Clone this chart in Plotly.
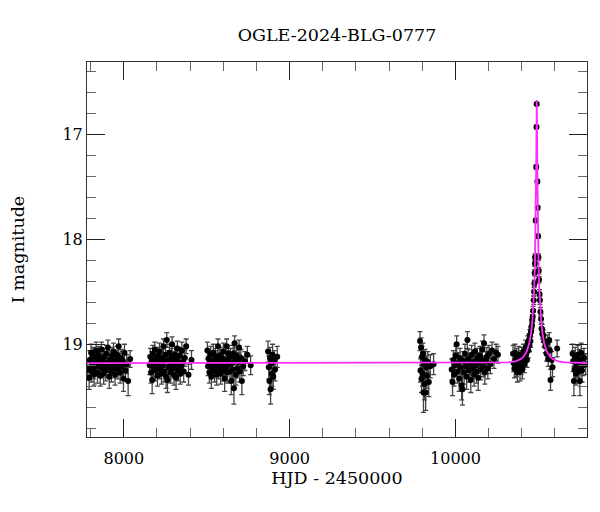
import plotly.graph_objects as go

# ---------------- data ----------------
s1_t = [7782, 7791, 7795, 7798, 7803, 7806, 7810, 7814, 7818, 7821, 7826,
        7829, 7833, 7837, 7841, 7846, 7849, 7853, 7858, 7861, 7866,
        7870, 7874, 7878, 7882, 7887, 7891, 7895, 7899, 7904, 7908,
        7912, 7917, 7921, 7925, 7929, 7934, 7938, 7943, 7947, 7951,
        7956, 7960, 7965, 7969, 7974, 7978, 7983, 7988, 7993, 7998,
        8004, 8010, 8017, 8026, 8038]
s1_m = [19.24, 19.32, 19.15, 19.22, 19.08, 19.26, 19.18, 19.11, 19.24, 19.29, 19.13,
        19.20, 19.06, 19.17, 19.27, 19.10, 19.21, 19.14, 19.30, 19.19, 19.05,
        19.23, 19.16, 19.28, 19.12, 19.20, 19.25, 19.09, 19.18, 19.03, 19.22,
        19.31, 19.14, 19.19, 19.26, 19.11, 19.17, 19.07, 19.23, 19.29, 19.15,
        19.20, 19.10, 19.24, 19.02, 19.18, 19.27, 19.13, 19.21, 19.16, 19.33,
        19.08, 19.25, 19.19, 19.35, 19.14]
s1_e = [0.10, 0.11, 0.09, 0.09, 0.08, 0.10, 0.09, 0.08, 0.09, 0.10, 0.08,
        0.09, 0.08, 0.09, 0.10, 0.08, 0.09, 0.08, 0.10, 0.09, 0.07,
        0.09, 0.09, 0.10, 0.08, 0.09, 0.10, 0.08, 0.09, 0.07, 0.09,
        0.11, 0.08, 0.09, 0.10, 0.08, 0.09, 0.08, 0.09, 0.10, 0.09,
        0.09, 0.08, 0.09, 0.07, 0.09, 0.10, 0.08, 0.09, 0.09, 0.12,
        0.08, 0.10, 0.09, 0.14, 0.08]

s2_t = [8156, 8160, 8164, 8168, 8171, 8175, 8179, 8183, 8187, 8191,
        8195, 8199, 8203, 8207, 8211, 8215, 8219, 8223, 8227, 8231,
        8235, 8239, 8243, 8247, 8251, 8255, 8259, 8263, 8267, 8271,
        8275, 8279, 8283, 8287, 8291, 8295, 8299, 8303, 8307, 8311,
        8315, 8319, 8323, 8327, 8331, 8335, 8340, 8345, 8350, 8355,
        8361, 8368, 8376, 8390, 8408]
s2_m = [19.20, 19.12, 19.27, 19.16, 19.34, 19.09, 19.22, 19.18, 19.05, 19.25,
        19.14, 19.21, 19.30, 19.11, 19.19, 19.07, 19.24, 19.16, 19.28, 19.13,
        19.20, 19.02, 19.26, 19.17, 19.10, 19.31, 18.96, 19.34, 19.15, 19.22,
        19.08, 19.19, 19.27, 19.12, 19.00, 19.23, 19.16, 19.29, 19.10, 19.20,
        19.32, 19.14, 19.04, 19.25, 19.18, 19.11, 19.28, 19.21, 19.06, 19.17,
        19.26, 19.13, 19.02, 19.29, 19.15]
s2_e = [0.09, 0.08, 0.10, 0.09, 0.13, 0.08, 0.09, 0.09, 0.07, 0.10,
        0.08, 0.09, 0.10, 0.08, 0.09, 0.08, 0.09, 0.09, 0.10, 0.08,
        0.09, 0.07, 0.10, 0.09, 0.08, 0.11, 0.07, 0.12, 0.09, 0.09,
        0.08, 0.09, 0.10, 0.08, 0.07, 0.09, 0.09, 0.10, 0.08, 0.09,
        0.11, 0.08, 0.07, 0.10, 0.09, 0.08, 0.10, 0.09, 0.08, 0.09,
        0.10, 0.08, 0.07, 0.10, 0.09]

s3_t = [8504, 8508, 8512, 8516, 8520, 8524, 8528, 8532, 8536, 8540,
        8544, 8548, 8552, 8556, 8560, 8564, 8568, 8572, 8576, 8580,
        8584, 8588, 8592, 8596, 8600, 8604, 8608, 8612, 8616, 8620,
        8624, 8628, 8632, 8636, 8640, 8644, 8648, 8652, 8656, 8660,
        8664, 8668, 8672, 8676, 8680, 8685, 8690, 8695, 8700, 8706,
        8712, 8720, 8730, 8745, 8765]
s3_m = [19.06, 19.21, 19.14, 19.27, 19.18, 19.10, 19.31, 19.16, 19.23, 19.08,
        19.19, 19.26, 19.12, 19.20, 19.29, 19.15, 19.02, 19.24, 19.17, 19.11,
        19.28, 19.19, 19.13, 19.25, 19.07, 19.21, 19.33, 19.16, 19.22, 19.02,
        19.27, 19.14, 19.09, 19.19, 19.26, 19.12, 19.35, 19.18, 19.24, 19.09,
        19.42, 18.99, 19.15, 19.29, 19.11, 19.23, 19.17, 19.03, 19.26, 19.13,
        19.35, 19.21, 19.16, 19.10, 19.20]
s3_e = [0.08, 0.09, 0.08, 0.10, 0.09, 0.08, 0.11, 0.09, 0.09, 0.08,
        0.09, 0.10, 0.08, 0.09, 0.10, 0.09, 0.07, 0.09, 0.09, 0.08,
        0.10, 0.09, 0.08, 0.10, 0.08, 0.09, 0.12, 0.09, 0.09, 0.07,
        0.10, 0.08, 0.08, 0.09, 0.10, 0.08, 0.13, 0.09, 0.09, 0.08,
        0.15, 0.07, 0.09, 0.10, 0.08, 0.09, 0.09, 0.07, 0.10, 0.08,
        0.13, 0.09, 0.09, 0.08, 0.09]

s4_t = [8870, 8874, 8878, 8882, 8885, 8889, 8893, 8897, 8901, 8906, 8912, 8925]
s4_m = [19.07, 19.22, 19.35, 19.13, 19.43, 19.18, 19.28, 19.10, 19.31, 19.16, 19.24, 19.12]
s4_e = [0.10, 0.11, 0.13, 0.10, 0.14, 0.10, 0.12, 0.10, 0.12, 0.10, 0.11, 0.10]

s5_t = [9786, 9789, 9792, 9795, 9798, 9801, 9804, 9807, 9810, 9813,
        9816, 9820, 9824, 9828, 9833, 9839, 9848, 9868]
s5_m = [18.97, 19.25, 19.03, 19.33, 19.12, 19.28, 19.09, 19.46, 19.19, 19.38,
        19.15, 19.46, 19.22, 19.30, 19.17, 19.36, 19.21, 19.19]
s5_e = [0.09, 0.11, 0.09, 0.13, 0.10, 0.12, 0.10, 0.19, 0.10, 0.15,
        0.10, 0.17, 0.11, 0.12, 0.10, 0.14, 0.11, 0.10]

s6_t = [9977, 9982, 9987, 9992, 9997, 10002, 10007, 10012, 10017, 10022,
        10027, 10032, 10037, 10042, 10047, 10052, 10057, 10062, 10067, 10072,
        10077, 10082, 10087, 10092, 10097, 10102, 10107, 10112, 10117, 10122,
        10127, 10132, 10137, 10142, 10147, 10152, 10157, 10162, 10167, 10172,
        10177, 10183, 10189, 10195, 10202, 10210, 10220, 10232, 10245, 10256]
s6_m = [19.24, 19.36, 19.15, 19.29, 19.20, 19.11, 19.00, 19.26, 19.18, 19.33,
        19.13, 19.22, 19.39, 19.43, 19.16, 19.27, 19.09, 19.21, 19.31, 18.96,
        19.14, 19.25, 19.19, 19.34, 19.10, 19.23, 19.17, 19.29, 19.07, 19.20,
        19.26, 19.13, 19.32, 19.18, 19.11, 19.24, 19.15, 19.05, 19.21, 18.99,
        19.27, 19.16, 19.12, 19.23, 19.09, 19.19, 19.06, 19.14, 19.08, 19.10]
s6_e = [0.10, 0.13, 0.09, 0.11, 0.10, 0.09, 0.08, 0.11, 0.10, 0.12,
        0.09, 0.10, 0.14, 0.15, 0.09, 0.11, 0.09, 0.10, 0.12, 0.08,
        0.09, 0.11, 0.10, 0.12, 0.09, 0.10, 0.09, 0.11, 0.08, 0.10,
        0.11, 0.09, 0.12, 0.10, 0.09, 0.10, 0.09, 0.08, 0.10, 0.08,
        0.11, 0.09, 0.09, 0.10, 0.08, 0.09, 0.08, 0.09, 0.08, 0.08]

s7_t = [10347, 10351, 10355, 10358, 10362, 10366, 10369, 10373, 10377, 10381,
        10385, 10389, 10392, 10396, 10399, 10403, 10407, 10411, 10415, 10419,
        10423, 10427, 10431, 10435, 10439, 10443, 10446, 10449, 10452, 10455,
        10458, 10461, 10463, 10465.4, 10468, 10471.5, 10473.8, 10475.6, 10477.5, 10479,
        10480, 10483.7, 10486.8, 10488.4, 10489.6, 10493.9, 10495.5, 10497.7, 10500, 10502,
        10503.7, 10506.7, 10509, 10512, 10516, 10519, 10522, 10525, 10529, 10535,
        10541, 10549, 10555, 10559, 10565, 10569, 10573, 10580, 10585, 10613]
s7_m = [19.09, 19.18, 19.23, 19.08, 19.15, 19.22, 19.12, 19.27, 19.17, 19.10,
        19.20, 19.26, 19.14, 19.21, 19.11, 19.24, 19.16, 19.07, 19.19, 19.12,
        19.03, 19.09, 19.15, 18.99, 19.06, 18.96, 19.01, 18.92, 18.97, 18.88,
        18.84, 18.82, 18.77, 18.74, 18.68, 18.58, 18.50, 18.42, 18.32, 18.23,
        18.17, 17.82, 17.31, 16.93, 16.71, 17.45, 17.70, 17.97, 18.17, 18.30,
        18.385, 18.52, 18.58, 18.69, 18.76, 18.85, 18.86, 18.90, 18.92, 18.97,
        19.02, 19.09, 18.98, 19.14, 18.96, 19.06, 19.34, 19.15, 19.22, 19.04]
s7_e = [0.08, 0.08, 0.09, 0.08, 0.08, 0.09, 0.08, 0.09, 0.08, 0.08,
        0.08, 0.09, 0.08, 0.08, 0.08, 0.09, 0.08, 0.07, 0.08, 0.07,
        0.07, 0.07, 0.07, 0.07, 0.07, 0.06, 0.06, 0.06, 0.06, 0.05,
        0.05, 0.05, 0.05, 0.05, 0.04, 0.04, 0.04, 0.03, 0.03, 0.03,
        0.03, 0.02, 0.02, 0.015, 0.012, 0.02, 0.02, 0.02, 0.03, 0.03,
        0.03, 0.04, 0.04, 0.04, 0.05, 0.05, 0.05, 0.05, 0.06, 0.06,
        0.06, 0.07, 0.07, 0.07, 0.07, 0.08, 0.10, 0.08, 0.09, 0.08]

s8_t = [10706, 10710, 10714, 10718, 10722, 10726, 10730, 10734, 10738, 10742,
        10746, 10750, 10754, 10758, 10763, 10768, 10775, 10785]
s8_m = [19.09, 19.16, 19.35, 19.24, 19.12, 19.28, 19.19, 19.22, 19.10, 19.26,
        19.15, 19.35, 19.18, 19.08, 19.25, 19.20, 19.13, 19.19]
s8_e = [0.09, 0.10, 0.14, 0.11, 0.09, 0.11, 0.10, 0.10, 0.09, 0.11,
        0.10, 0.14, 0.10, 0.09, 0.11, 0.10, 0.09, 0.10]

model_t = [7778, 10000, 10190, 10260, 10320, 10360, 10390, 10410, 10430, 10445,
           10455, 10463, 10470, 10475, 10479, 10482, 10484, 10486, 10487, 10488,
           10489, 10490, 10491, 10492, 10493, 10494, 10496, 10498, 10501, 10505,
           10510, 10517, 10525, 10535, 10550, 10570, 10590, 10620, 10660, 10720,
           10795]
model_m = [19.180, 19.180, 19.179, 19.177, 19.173, 19.163, 19.145, 19.119, 19.067, 18.991,
           18.902, 18.788, 18.629, 18.451, 18.237, 17.998, 17.773, 17.460, 17.258, 17.021,
           16.785, 16.672, 16.785, 17.021, 17.258, 17.460, 17.773, 17.998, 18.237, 18.451,
           18.629, 18.788, 18.902, 18.991, 19.067, 19.119, 19.145, 19.163, 19.173, 19.177,
           19.179]

title_text = "OGLE-2024-BLG-0777"
x_title = "HJD - 2450000"
y_title = "I magnitude"
x_range = [7778, 10793]
y_range = [19.884, 16.31]

# ---------------- figure ----------------
t_all = s1_t + s2_t + s3_t + s4_t + s5_t + s6_t + s7_t + s8_t
m_all = s1_m + s2_m + s3_m + s4_m + s5_m + s6_m + s7_m + s8_m
e_all = s1_e + s2_e + s3_e + s4_e + s5_e + s6_e + s7_e + s8_e

FONT = "DejaVu Serif"

fig = go.Figure()
fig.add_trace(go.Scatter(
    x=t_all, y=m_all, mode="markers",
    marker=dict(color="black", size=6, line=dict(width=0)),
    error_y=dict(type="data", array=e_all, visible=True,
                 color="#444444", thickness=1.3, width=2.5),
    showlegend=False, hoverinfo="skip",
))
fig.add_trace(go.Scatter(
    x=model_t, y=model_m, mode="lines",
    line=dict(color="#ff2cff", width=1.8),
    showlegend=False, hoverinfo="skip",
))

axis_common = dict(
    showgrid=False, zeroline=False,
    showline=True, linecolor="#333333", linewidth=1, mirror="ticks",
    ticks="inside", tickcolor="#222222", tickwidth=1, ticklen=18,
    tickfont=dict(family=FONT, size=16, color="black"),
    automargin=False,
)

fig.update_xaxes(
    range=x_range, tick0=0, dtick=1000, tickformat="d",
    minor=dict(dtick=200, ticks="inside", ticklen=9, tickcolor="#666666", tickwidth=1),
    ticklabelstandoff=7,
    title=dict(text=x_title, font=dict(family=FONT, size=17.5, color="black"), standoff=3),
    **axis_common,
)
fig.update_yaxes(
    range=y_range, tick0=0, dtick=1, tickformat="d",
    minor=dict(dtick=0.2, ticks="inside", ticklen=9, tickcolor="#666666", tickwidth=1),
    ticklabelstandoff=0,
    title=dict(text=y_title, font=dict(family=FONT, size=17.5, color="black"), standoff=33),
    **axis_common,
)

# the page body has an 8px margin, so the figure is 8px smaller and margins shifted
W, H, OFF = 600, 512, 8
fig.update_layout(
    width=W - OFF, height=H - OFF,
    margin=dict(l=87 - OFF, r=13, t=62 - OFF, b=75, autoexpand=False),
    paper_bgcolor="white", plot_bgcolor="white",
    title=dict(text=title_text, font=dict(family=FONT, size=17.5, color="black"),
               x=0.5, xref="paper", xanchor="center",
               y=1 - (34.5 - OFF) / (H - OFF), yref="container", yanchor="middle"),
)

fig.write_html("out.html")
